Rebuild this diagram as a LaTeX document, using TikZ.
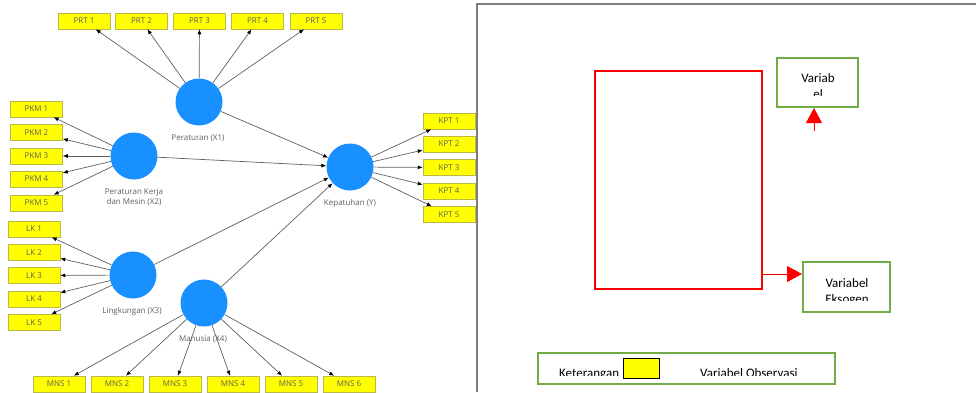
\documentclass[tikz,border=0pt]{standalone}
\usepackage{fontspec}
\setmainfont{Open Sans}
\newfontfamily\calib{Carlito}
\usetikzlibrary{arrows.meta}
\definecolor{lvblue}{RGB}{24,144,255}
\definecolor{boxyel}{RGB}{255,255,0}
\definecolor{boxedge}{RGB}{185,185,70}
\definecolor{linegray}{RGB}{95,95,95}
\definecolor{txtgray}{RGB}{95,95,95}
\definecolor{frgreen}{RGB}{112,173,71}
\definecolor{frgray}{RGB}{125,125,125}
\begin{document}
\begin{tikzpicture}[x=1pt,y=-1pt,
  ind/.style={draw=boxedge, line width=0.5pt, fill=boxyel, minimum width=52pt,
    minimum height=16pt, inner sep=0pt, font=\fontsize{8}{9}\selectfont, text=txtgray},
  lat/.style={circle, fill=lvblue, minimum size=47pt, inner sep=0pt},
  lbl/.style={font=\fontsize{8}{10}\selectfont, text=txtgray, align=center},
  load/.style={draw=linegray, line width=0.7pt, -{Latex[length=5pt,width=4pt,color=black]}},
  link/.style={load},
  redarr/.style={draw=red, line width=0.9pt, -{Triangle[length=15pt,width=16pt]}},
  gbox/.style={draw=frgreen, line width=2pt, inner sep=0pt},
  paneltxt/.style={font=\calib\fontsize{13}{16}\selectfont, inner sep=0pt, anchor=base},
]
\useasboundingbox (0,0) rectangle (976,392);

% ---------------- structural model ----------------
\node[lat] (x1) at (199,102) {};
\node[lat] (x2) at (134,156) {};
\node[lat] (x3) at (133,275) {};
\node[lat] (x4) at (204,303) {};
\node[lat] (y)  at (350,167) {};

\node[lbl] (x1l) at (198,138) {Peraturan (X1)};
\node[lbl] (x2l) at (134,197) {Peraturan Kerja\\dan Mesin (X2)};
\node[lbl] (x3l) at (132,311) {Lingkungan (X3)};
\node[lbl] (x4l) at (203,339) {Manusia (X4)};
\node[lbl] (yl)  at (350,203) {Kepatuhan (Y)};

% indicators
\foreach \i/\x in {1/84,2/141.5,3/199.5,4/257.5,5/316}
  \node[ind] (prt\i) at (\x,21) {PRT \i};
\foreach \i/\yy in {1/109,2/132.5,3/156,4/179,5/203}
  \node[ind] (pkm\i) at (36.5,\yy) {PKM \i};
\foreach \i/\yy in {1/229,2/252.5,3/275.5,4/299,5/322.5}
  \node[ind] (lk\i) at (34,\yy) {LK \i};
\foreach \i/\x in {1/59,2/117,3/175,4/233,5/291,6/349}
  \node[ind] (mns\i) at (\x,384) {MNS \i};
\foreach \i/\yy in {1/121,2/144,3/167.5,4/191,5/214.5}
  \node[ind] (kpt\i) at (449,\yy) {KPT \i};

% loadings
\foreach \i in {1,...,5} {
  \draw[load] (x1) -- (prt\i);
  \draw[load] (x2) -- (pkm\i);
  \draw[load] (x3) -- (lk\i);
  \draw[load] (y) -- (kpt\i);
}
\foreach \i in {1,...,6}
  \draw[load] (x4) -- (mns\i);

% paths
\draw[link] (x1) -- (y);
\draw[link] (x2) -- (y);
\draw[link] (x3) -- (y);
\draw[link] (x4) -- (y);

% ---------------- legend panel ----------------
\draw[frgray, line width=1.3pt] (477,392) -- (477,4) -- (976,4);

\node[draw=red, line width=2pt, minimum width=167pt, minimum height=218pt,
      inner sep=0pt] (rr) at (678.5,180) {};

\node[gbox, minimum width=81pt, minimum height=49pt] (g1) at (817.5,82.5) {};
\begin{scope}
  \clip (779,60) rectangle (856,95.5);
  \node[paneltxt] (g1a) at (818,82.5) {Variab};
  \node[paneltxt] (g1b) at (818,98.5) {el};
\end{scope}

\node[gbox, minimum width=87pt, minimum height=50pt] (g2) at (846.5,287) {};
\begin{scope}
  \clip (805,264) rectangle (888,300);
  \node[paneltxt] (g2a) at (847,287) {Variabel};
  \node[paneltxt] (g2b) at (847,303) {Eksogen};
\end{scope}

\coordinate (upfoot) at (814,131);
\draw[redarr] (upfoot) -- (upfoot |- g1.south);
\coordinate (ry) at (0,274);
\draw[redarr] (rr.east |- ry) -- (g2.west |- ry);

\node[gbox, minimum width=297pt, minimum height=31pt] (leg) at (686.5,368.5) {};
\begin{scope}
  \clip (540,355) rectangle (833,375);
  \node[paneltxt, anchor=base west] (ket) at (559,377.5) {Keterangan};
  \node[paneltxt, anchor=base west] (obs) at (700,377.5) {Variabel Observasi};
\end{scope}
\node[draw=black, line width=0.7pt, fill=boxyel, minimum width=36pt,
      minimum height=20pt, inner sep=0pt] (sw) at (641,368.5) {};
\end{tikzpicture}
\end{document}
